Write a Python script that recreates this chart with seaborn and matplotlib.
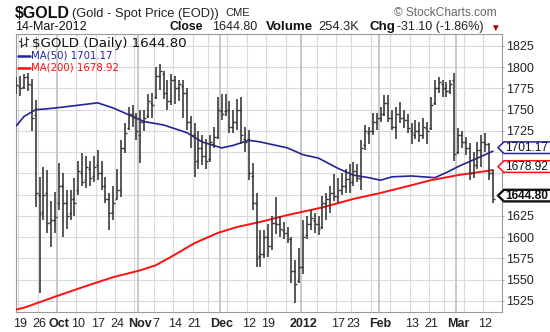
import numpy as np
import pandas as pd
import matplotlib
matplotlib.use("Agg")
import matplotlib.pyplot as plt
import seaborn as sns
from matplotlib.patches import Polygon
from matplotlib.lines import Line2D
from matplotlib.transforms import IdentityTransform

# ---------------- data ----------------
holidays = ["2011-11-24", "2011-12-26", "2012-01-02", "2012-01-16", "2012-02-20"]
dates = pd.bdate_range("2011-09-16", "2012-03-14")
dates = dates[~dates.isin(pd.to_datetime(holidays))]

opens = [1785, 1778, 1777, 1788, 1779, 1744, 1650, 1630, 1652, 1618, 1620,
         1640, 1660, 1640, 1628, 1645, 1655, 1675, 1667, 1680, 1672, 1685, 1675, 1660, 1645, 1630,
         1645, 1655, 1705, 1728, 1745, 1742,
         1720, 1735, 1742, 1758, 1765, 1790, 1792, 1770, 1760, 1785, 1775, 1778, 1770, 1735,
         1720, 1690, 1705, 1695, 1692, 1710, 1718,
         1748, 1748, 1750, 1730, 1735, 1750, 1715, 1715, 1672, 1640, 1578, 1580, 1600, 1590, 1617,
         1615, 1608, 1605, 1598, 1560, 1548,
         1565, 1602, 1615, 1620, 1615, 1612, 1640, 1645, 1652, 1648, 1655, 1660, 1668, 1665, 1678,
         1670, 1708, 1722, 1725, 1735,
         1740, 1745, 1758, 1740, 1730, 1745, 1740, 1738, 1725, 1720, 1725, 1720, 1728, 1728, 1758,
         1775, 1780, 1775, 1772, 1785,
         1700, 1720, 1712, 1705, 1675, 1685, 1702, 1712, 1710, 1675]
highs = [1788, 1790, 1792, 1793, 1786, 1761, 1671, 1682, 1679, 1643, 1653,
         1687, 1675, 1655, 1655, 1670, 1690, 1699, 1695, 1690, 1695, 1703, 1690, 1671, 1652, 1660,
         1680, 1714, 1734, 1753, 1755, 1746,
         1750, 1750, 1769, 1770, 1800, 1804, 1795, 1785, 1792, 1790, 1785, 1785, 1775, 1743,
         1734, 1725, 1720, 1715, 1720, 1730, 1765,
         1769, 1769, 1760, 1750, 1763, 1765, 1730, 1726, 1687, 1652, 1608, 1608, 1616, 1625, 1647,
         1625, 1618, 1612, 1600, 1573, 1587,
         1620, 1625, 1632, 1628, 1625, 1648, 1652, 1660, 1674, 1670, 1675, 1680, 1686, 1688, 1686,
         1714, 1732, 1730, 1746, 1746,
         1753, 1767, 1767, 1750, 1753, 1759, 1750, 1745, 1734, 1738, 1735, 1740, 1735, 1765, 1785,
         1788, 1785, 1782, 1785, 1793,
         1729, 1725, 1718, 1711, 1700, 1712, 1720, 1722, 1711, 1679]
lows = [1768, 1766, 1774, 1772, 1725, 1635, 1534, 1620, 1605, 1589, 1605,
        1632, 1600, 1610, 1620, 1625, 1650, 1660, 1658, 1660, 1665, 1667, 1655, 1640, 1608, 1620,
        1645, 1647, 1699, 1726, 1730, 1714,
        1687, 1725, 1740, 1740, 1762, 1773, 1762, 1750, 1755, 1757, 1760, 1740, 1726, 1705,
        1671, 1680, 1685, 1680, 1688, 1705, 1715,
        1738, 1742, 1722, 1722, 1726, 1710, 1700, 1667, 1632, 1565, 1565, 1575, 1577, 1585, 1604,
        1600, 1598, 1593, 1546, 1522, 1546,
        1557, 1598, 1608, 1605, 1602, 1610, 1620, 1628, 1643, 1640, 1650, 1652, 1652, 1660, 1665,
        1655, 1702, 1710, 1720, 1726,
        1735, 1742, 1735, 1726, 1715, 1734, 1728, 1722, 1710, 1715, 1712, 1715, 1710, 1726, 1755,
        1770, 1765, 1765, 1768, 1690,
        1698, 1705, 1697, 1667, 1670, 1680, 1682, 1700, 1667, 1640]
closes = [1779, 1776, 1788, 1780, 1740, 1652, 1627, 1650, 1617, 1620, 1624,
          1660, 1640, 1625, 1645, 1640, 1678, 1665, 1683, 1670, 1682, 1675, 1660, 1645, 1628, 1640,
          1655, 1705, 1722, 1745, 1740, 1725,
          1735, 1740, 1760, 1755, 1790, 1795, 1770, 1760, 1785, 1775, 1780, 1770, 1735, 1720,
          1690, 1705, 1695, 1690, 1712, 1718, 1750,
          1745, 1750, 1730, 1735, 1750, 1720, 1712, 1675, 1640, 1575, 1580, 1600, 1590, 1617, 1615,
          1610, 1605, 1598, 1560, 1545, 1565,
          1600, 1615, 1622, 1615, 1610, 1640, 1645, 1652, 1648, 1655, 1660, 1668, 1665, 1678, 1670,
          1705, 1725, 1725, 1735, 1740,
          1745, 1758, 1740, 1730, 1745, 1740, 1738, 1728, 1722, 1725, 1720, 1730, 1725, 1755, 1775,
          1782, 1775, 1772, 1780, 1698,
          1720, 1712, 1705, 1675, 1685, 1702, 1712, 1710, 1676, 1644.80]

ma50_dates = ["2011-09-16", "2011-09-20", "2011-09-23", "2011-09-28", "2011-10-04", "2011-10-17",
              "2011-10-21", "2011-11-01", "2011-11-02", "2011-11-09", "2011-11-17", "2011-11-23",
              "2011-12-01", "2011-12-06", "2011-12-12", "2011-12-15", "2011-12-21", "2011-12-27",
              "2012-01-03", "2012-01-09", "2012-01-17", "2012-01-23", "2012-01-27", "2012-02-01",
              "2012-02-06", "2012-02-13", "2012-02-22", "2012-02-27", "2012-03-01", "2012-03-07",
              "2012-03-14"]
ma50_values = [1731, 1742, 1750, 1751, 1753, 1758, 1752, 1738, 1736, 1732, 1723, 1712,
               1705, 1708, 1714, 1712, 1708, 1705, 1697, 1693, 1681, 1673, 1670, 1667,
               1671, 1672, 1670, 1676, 1683, 1691, 1701.17]

ma200_dates = ["2011-09-16", "2011-09-20", "2011-09-30", "2011-10-11", "2011-10-21", "2011-11-01",
               "2011-11-07", "2011-11-11", "2011-11-21", "2011-11-30", "2011-12-07", "2011-12-15",
               "2011-12-27", "2012-01-10", "2012-01-23", "2012-02-01", "2012-02-10", "2012-02-21",
               "2012-03-01", "2012-03-14"]
ma200_values = [1515, 1517, 1530, 1541, 1553, 1561, 1567, 1577, 1593, 1605, 1612, 1618,
                1626, 1635, 1645, 1652, 1660, 1667, 1673, 1678.92]

tick_dates = ["2011-09-19", "2011-09-26", "2011-10-03", "2011-10-10", "2011-10-17", "2011-10-24",
              "2011-11-01", "2011-11-07", "2011-11-14", "2011-11-21", "2011-12-01", "2011-12-12",
              "2011-12-19", "2012-01-03", "2012-01-17", "2012-01-23", "2012-02-01", "2012-02-13",
              "2012-02-21", "2012-03-01", "2012-03-12"]
tick_labels = ["19", "26", "Oct", "10", "17", "24", "Nov", "7", "14", "21", "Dec", "12",
               "19", "2012", "17", "23", "Feb", "13", "21", "Mar", "12"]
bold_labels = ["Oct", "Nov", "Dec", "2012", "Feb", "Mar"]
y_ticks = [1525, 1550, 1575, 1600, 1625, 1650, 1675, 1700, 1725, 1750, 1775, 1800, 1825]
y_hidden = [1650, 1675, 1700]   # covered by the value tags in the reference

last_close = 1644.80
last_ma50 = 1701.17
last_ma200 = 1678.92

# ---------------- frame ----------------
pos = np.arange(len(dates))
df = pd.DataFrame({"pos": pos, "open": opens, "high": highs, "low": lows, "close": closes})
idx = {d: i for i, d in enumerate(dates.strftime("%Y-%m-%d"))}
ma50 = pd.DataFrame({"pos": [idx[d] for d in ma50_dates], "val": ma50_values})
ma200 = pd.DataFrame({"pos": [idx[d] for d in ma200_dates], "val": ma200_values})

sns.set_theme(style="white")
plt.rcParams["font.family"] = ["Liberation Sans", "DejaVu Sans"]

W, H = 550, 332
fig = plt.figure(figsize=(W / 100, H / 100), dpi=100)
L, R, T, B = 15.7, 502, 34, 312
ax = fig.add_axes([L / W, 1 - B / H, (R - L) / W, (B - T) / H])
ax.set_facecolor("white")
ax.set_xlim(-0.15, 125.35)
ax.set_ylim(1512, 1839)

# grid
for yv in y_ticks:
    ax.axhline(yv, color="#dadada", lw=0.8, zorder=0)
prev = None
for i, d in enumerate(dates):
    if prev is not None:
        new_month = d.month != prev.month
        new_week = d.weekday() < prev.weekday()
        if new_month:
            ax.axvline(i - 0.5, color="#c4c4c4", lw=1.3, zorder=0)
        elif new_week:
            ax.axvline(i - 0.5, color="#dadada", lw=0.8, zorder=0)
    prev = d

# MAs
sns.lineplot(data=ma50, x="pos", y="val", ax=ax, color="#23239a", lw=1.2, zorder=3)
sns.lineplot(data=ma200, x="pos", y="val", ax=ax, color="#ff1010", lw=1.4, zorder=3)

# OHLC bars
bar_c = "#333333"
ax.vlines(df["pos"], df["low"], df["high"], color=bar_c, lw=1.15, zorder=4)
ax.hlines(df["open"], df["pos"] - 0.5, df["pos"], color=bar_c, lw=1.0, zorder=4)
ax.hlines(df["close"], df["pos"], df["pos"] + 0.5, color=bar_c, lw=1.0, zorder=4)

# axes styling
for s in ax.spines.values():
    s.set_color("#9a9a9a")
    s.set_linewidth(0.8)
ax.set_xlabel("")
ax.set_ylabel("")
ax.yaxis.tick_right()
ax.set_yticks(y_ticks)
ax.set_yticklabels(["" if v in y_hidden else str(v) for v in y_ticks])
ax.tick_params(axis="y", length=1.5, width=0.6, color="#888888", pad=1.5, labelsize=9,
               labelcolor="#222222", right=True, left=False)
ax.set_xticks([idx[d] for d in tick_dates])
ax.set_xticklabels(tick_labels)
ax.tick_params(axis="x", length=0, pad=4, labelsize=9, labelcolor="#222222")
for t in ax.get_xticklabels():
    if t.get_text() in bold_labels:
        t.set_fontweight("bold")

# ---------------- header texts ----------------
def ft(x, y, s, **kw):
    kw.setdefault("va", "center")
    kw.setdefault("ha", "left")
    fig.text(x / W, 1 - y / H, s, **kw)

ft(15, 13, "$GOLD", fontsize=11.5, fontweight="bold", color="#111111")
ft(72, 13.5, "(Gold - Spot Price (EOD))", fontsize=9.3, color="#222222")
ft(225, 13.5, "CME", fontsize=8, color="#222222")
ft(497, 13, "© StockCharts.com", fontsize=8.6, color="#666666", ha="right")
ft(15, 26.5, "14-Mar-2012", fontsize=9, color="#111111")
ft(170, 27, "Close", fontsize=8.8, fontweight="bold", color="#111111")
ft(212, 27, "1644.80", fontsize=9, color="#222222")
ft(266, 27, "Volume", fontsize=9.6, fontweight="bold", color="#111111")
ft(318, 27, "254.3K", fontsize=9.3, color="#222222")
ft(369, 27, "Chg", fontsize=9.6, fontweight="bold", color="#111111")
ft(397, 27, "-31.10 (-1.86%)", fontsize=9.0, color="#222222")
ft(490, 27.5, "▼", fontsize=7, color="#b00000")

# ---------------- legend inside plot ----------------
ID = IdentityTransform()
def fl(xs, ys, **kw):
    fig.add_artist(Line2D(xs, [H - y for y in ys], transform=ID, **kw))

# small bar icon
fl([21, 21], [38, 47], color="#333333", lw=0.9)
fl([19, 21], [41, 41], color="#333333", lw=0.9)
fl([21, 23], [45, 45], color="#333333", lw=0.9)
fl([26, 26], [37, 46], color="#333333", lw=0.9)
fl([24, 26], [44, 44], color="#333333", lw=0.9)
fl([26, 28], [39, 39], color="#333333", lw=0.9)
ft(32, 43, "$GOLD (Daily) 1644.80", fontsize=9.6, color="#111111", family=["DejaVu Sans"])
fl([18, 30], [55.5, 55.5], color="#23239a", lw=1.8)
ft(31, 55.5, "MA(50) 1701.17", fontsize=7.3, color="#23239a", family=["DejaVu Sans"])
fl([18, 30], [67.5, 67.5], color="#ff1010", lw=1.8)
ft(31, 67.5, "MA(200) 1678.92", fontsize=7.3, color="#ff1010", family=["DejaVu Sans"])

# ---------------- right value tags ----------------
def tag(val, ec, bold=False):
    yd = ax.transData.transform((0, val))[1] + 3.5
    h = 5.8
    pts = [(498, yd), (504, yd + h), (552, yd + h), (552, yd - h), (504, yd - h)]
    poly = Polygon(pts, closed=True, transform=ID, facecolor="white", edgecolor=ec,
                   lw=1.7 if bold else 1.1, zorder=10)
    fig.add_artist(poly)
    fig.text(505 / W, yd / H, f"{val:.2f}", ha="left", va="center", fontsize=8.6,
             fontweight="bold" if bold else "normal", color="#111111", zorder=11)

tag(last_ma50, "#23239a")
tag(last_ma200, "#ff1010")
tag(last_close, "#111111", bold=True)

fig.savefig("out.png", dpi=100)
